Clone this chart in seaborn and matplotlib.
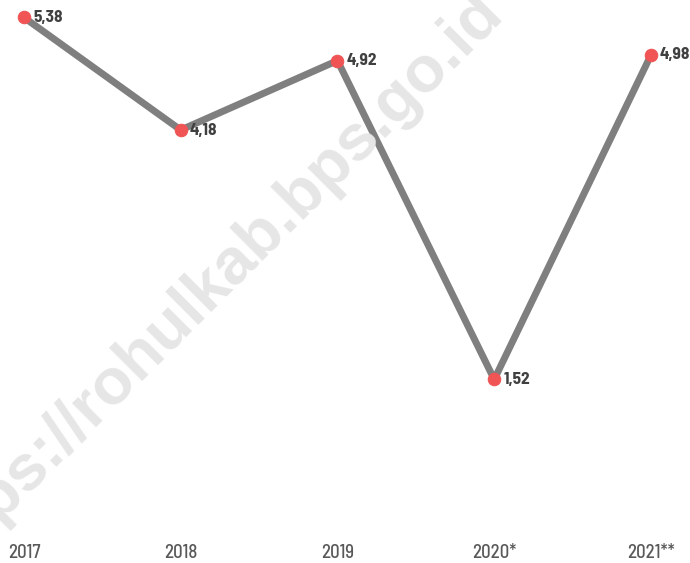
import matplotlib
matplotlib.use("Agg")
import matplotlib.pyplot as plt
import seaborn as sns
import pandas as pd

# data
years = ["2017", "2018", "2019", "2020*", "2021**"]
growth = [5.38, 4.18, 4.92, 1.52, 4.98]
labels = ["5,38", "4,18", "4,92", "1,52", "4,98"]

sns.set_theme(style="white")
plt.rcParams["font.family"] = ["Barlow Semi Condensed", "DejaVu Sans"]
plt.rcParams["font.stretch"] = "condensed"

df = pd.DataFrame({"tahun": years, "nilai": growth})

fig = plt.figure(figsize=(6.9, 5.63), dpi=100)
ax = fig.add_axes([0, 0.0728, 1, 0.927])

# watermark
fig.text(0.304, 0.494, "https://rohulkab.bps.go.id", rotation=45, fontsize=47,
         fontweight="bold", family="Liberation Sans", fontstretch="normal",
         color="#e6e6e6", ha="center", va="center", zorder=0)

sns.lineplot(data=df, x="tahun", y="nilai", ax=ax, color="#7f7f7f", linewidth=5,
             marker="o", markersize=9, markerfacecolor="#f05454",
             markeredgecolor="#f05454", sort=False)

for i, (v, t) in enumerate(zip(growth, labels)):
    ax.annotate(t, (i, v), xytext=(6.5, 0), textcoords="offset points",
                va="center", ha="left", fontsize=12.5, fontweight="bold",
                color="#404040")

ax.set_xlim(-0.153, 4.249)
ax.set_ylim(0, 5.565)
ax.set_xlabel("")
ax.set_ylabel("")
ax.set_yticks([])
ax.tick_params(axis="x", length=0, pad=16, labelsize=13.5, labelcolor="#595959")
for lbl in ax.get_xticklabels():
    lbl.set_fontweight("medium")
ax.patch.set_alpha(0)
sns.despine(ax=ax, left=True, bottom=True)

fig.savefig("out.png", dpi=100)
